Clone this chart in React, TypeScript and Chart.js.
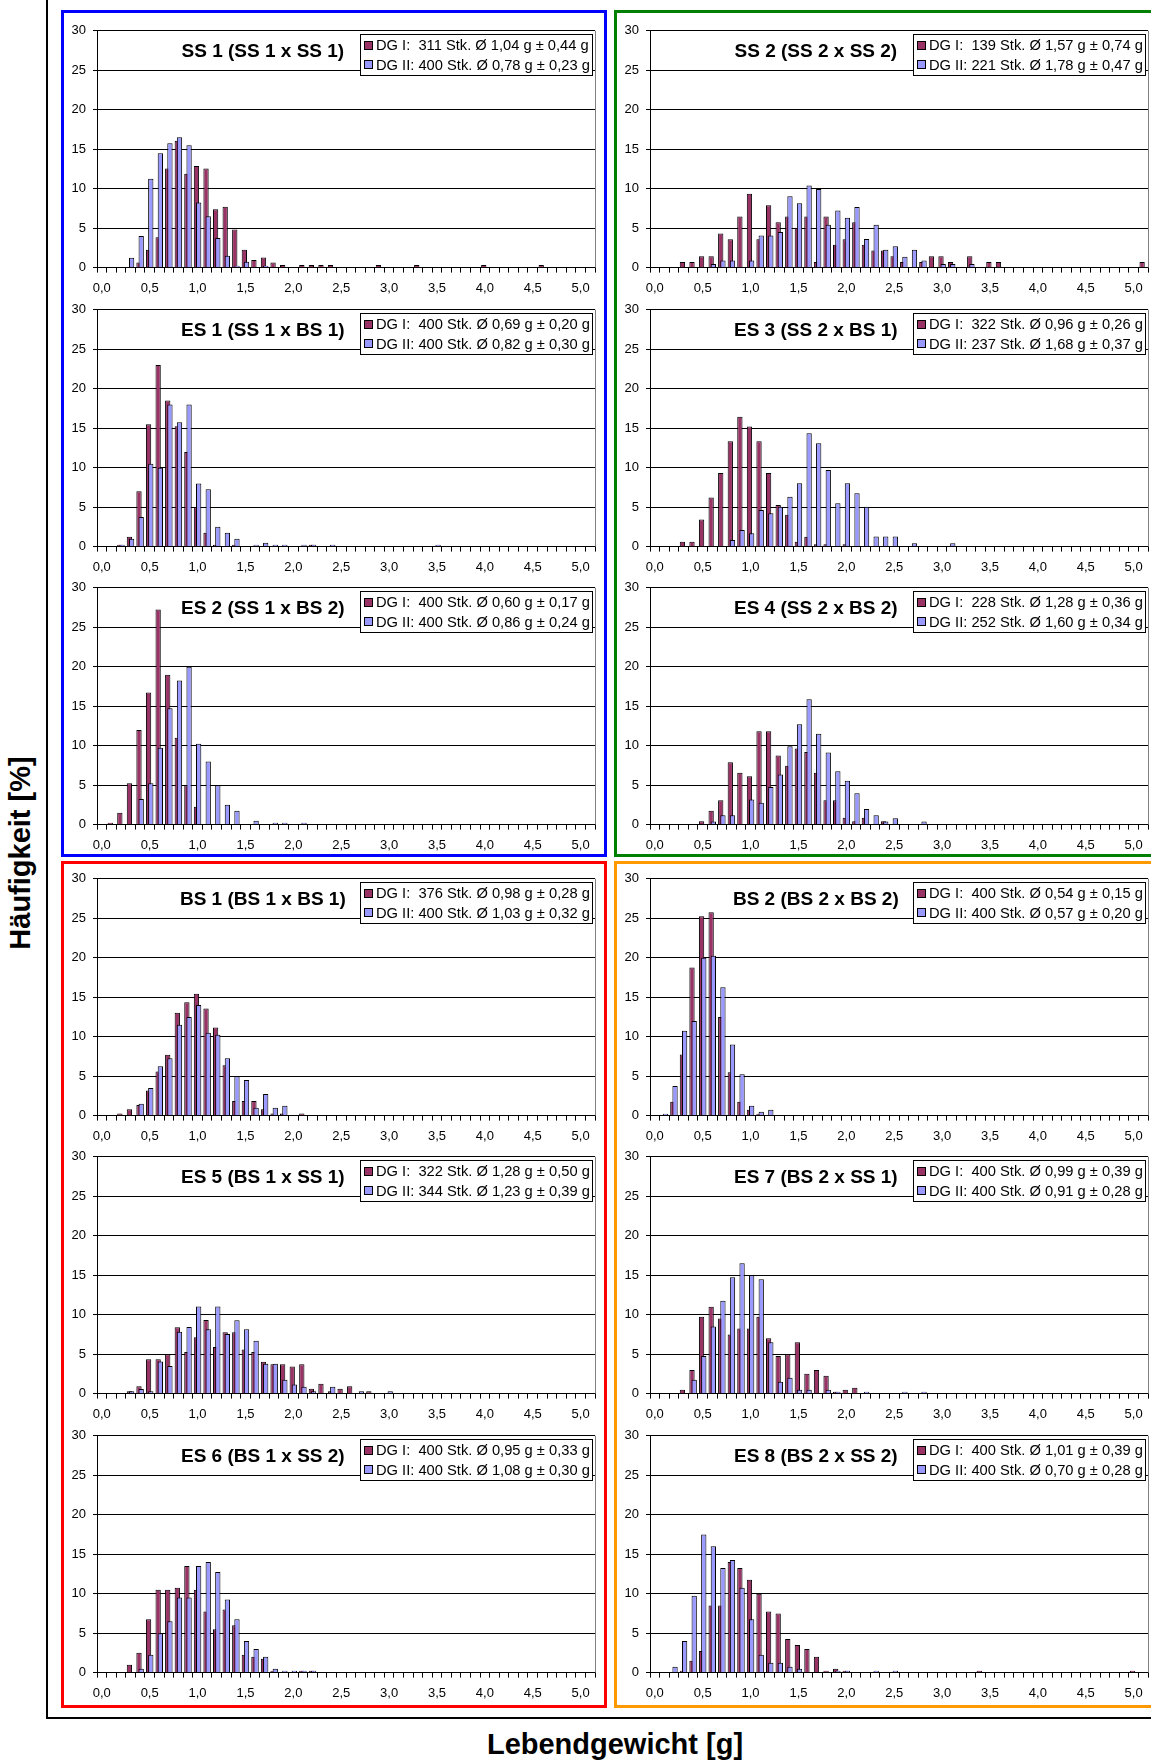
import React, { useEffect, useRef } from 'react';
import { Chart, registerables } from 'chart.js';

Chart.register(...registerables);

const FONT = '"Liberation Sans", Arial, Helvetica, sans-serif';
Chart.defaults.font.family = FONT;

// Weight classes 0,0 … 5,1 g in steps of 0,1 g
const WEIGHT_CLASSES = Array.from({ length: 52 }, (_, i) => (i / 10).toFixed(1).replace('.', ','));
const Y_TICKS = { min: 0, max: 30, step: 5 };

// Relative frequencies [%] per weight class (index 0 = 0,0 g); missing classes hold no animals
const SS1_DG1 = [0, 0, 0, 0, 0.64, 2.25, 3.86, 12.54, 16.08, 11.9, 12.86, 12.54, 7.4, 7.72, 4.82, 2.25, 0.96, 1.29, 0.64, 0.32, 0, 0.32, 0.32, 0.32, 0.32, 0, 0, 0, 0, 0.32, 0, 0, 0, 0.32, 0, 0, 0, 0, 0, 0, 0.32, 0, 0, 0, 0, 0, 0.32];
const SS1_DG2 = [0, 0, 0, 1.25, 4, 11.25, 14.5, 15.75, 16.5, 15.5, 8.25, 6.5, 3.75, 1.5, 0.25, 0.75, 0, 0.25];

const SS2_DG1 = [0, 0, 0, 0.72, 0.72, 1.44, 1.44, 4.32, 3.6, 6.47, 9.35, 3.6, 7.91, 5.76, 6.47, 5.04, 6.47, 0.72, 6.47, 2.88, 3.6, 5.76, 2.88, 2.16, 2.16, 1.44, 0.72, 0, 0.72, 1.44, 1.44, 0.72, 0, 1.44, 0, 0.72, 0.72, 0, 0, 0, 0, 0, 0, 0, 0, 0, 0, 0, 0, 0, 0, 0.72];
const SS2_DG2 = [0, 0, 0, 0, 0, 0, 0.45, 0.9, 0.9, 0, 0.9, 4.07, 4.07, 4.52, 9.05, 8.14, 10.41, 9.95, 5.43, 7.24, 6.33, 7.69, 3.62, 5.43, 2.26, 2.71, 1.36, 2.26, 0.9, 0, 0.45, 0.45, 0, 0.45];

const ES1_DG1 = [0, 0, 0.25, 1.25, 7, 15.5, 23, 18.5, 15.25, 12, 5, 1.75, 0.25, 0, 0.25, 0, 0, 0, 0, 0, 0, 0, 0.25];
const ES1_DG2 = [0, 0, 0.25, 1, 3.75, 10.5, 10, 18, 15.75, 18, 8, 7.25, 2.5, 1.75, 1, 0, 0.25, 0.5, 0.25, 0.25, 0, 0.25, 0.25, 0, 0.25, 0, 0, 0, 0, 0, 0, 0, 0, 0, 0, 0.25];

const ES3_DG1 = [0, 0, 0, 0.62, 0.62, 3.42, 6.21, 9.32, 13.35, 16.46, 15.22, 13.35, 9.32, 5.28, 4.04, 0.62, 1.24, 0.31, 0.31, 0, 0.31];
const ES3_DG2 = [0, 0, 0, 0, 0, 0, 0, 0, 0.84, 2.11, 1.69, 4.64, 4.22, 5.06, 6.33, 8.02, 14.35, 13.08, 9.7, 5.49, 8.02, 6.75, 5.06, 1.27, 1.27, 1.27, 0, 0.42, 0, 0, 0, 0.42];

const ES2_DG1 = [0, 0.25, 1.5, 5.25, 12, 16.75, 27.25, 19, 11, 5, 2.25];
const ES2_DG2 = [0, 0, 0, 0, 3.25, 5.25, 9.75, 14.75, 18.25, 20, 10.25, 8, 5, 2.5, 1.75, 0, 0.5, 0, 0.25, 0.25, 0, 0.25];

const ES4_DG1 = [0, 0, 0, 0, 0, 0.44, 1.75, 3.07, 7.89, 6.58, 6.14, 11.84, 11.84, 8.77, 7.46, 9.65, 9.21, 6.58, 3.07, 3.07, 0.88, 0.44, 0.88, 0, 0.44];
const ES4_DG2 = [0, 0, 0, 0, 0, 0, 0.4, 1.19, 1.19, 0, 3.17, 2.78, 4.76, 6.35, 9.92, 12.7, 15.87, 11.51, 9.13, 6.75, 5.56, 3.97, 1.98, 1.19, 0.4, 0.79, 0, 0, 0.4];

const BS1_DG1 = [0, 0, 0.27, 0.8, 1.33, 3.19, 5.59, 7.71, 13.03, 14.36, 15.43, 13.56, 11.17, 6.38, 1.86, 1.86, 1.86, 0.8, 0.27, 0.27, 0, 0.27];
const BS1_DG2 = [0, 0, 0, 0, 1.5, 3.5, 6.25, 7.25, 11.5, 12.5, 14, 10.5, 10.25, 7.25, 5, 4.5, 1, 2.75, 1, 1.25];

const BS2_DG1 = [0, 0, 1.75, 7.75, 18.75, 25.25, 25.75, 12.5, 5.5, 1.75, 0.75, 0.25];
const BS2_DG2 = [0, 0.25, 3.75, 10.75, 12, 20, 20.25, 16.25, 9, 5.25, 1.25, 0.5, 0.75];

const ES5_DG1 = [0, 0, 0, 0.31, 0.93, 4.35, 4.35, 4.97, 8.39, 5.28, 7.14, 9.32, 5.9, 7.76, 7.76, 5.59, 5.28, 4.04, 3.73, 3.73, 3.42, 3.73, 0.62, 1.24, 0.31, 0.62, 0.93, 0, 0.31];
const ES5_DG2 = [0, 0, 0, 0.29, 0.58, 0.29, 4.07, 3.49, 7.85, 8.43, 11.05, 8.14, 11.05, 7.56, 9.3, 8.14, 6.69, 3.78, 3.78, 1.74, 1.16, 0.87, 0.29, 0, 0.87, 0, 0, 0.29, 0, 0, 0.29];

const ES7_DG1 = [0, 0, 0, 0.5, 3, 9.75, 11, 9.5, 7.5, 8.25, 8.25, 9.75, 7, 4.75, 5, 6.5, 2.5, 3, 2.25, 0.25, 0.5, 0.75];
const ES7_DG2 = [0, 0, 0, 0, 1.75, 4.75, 8.5, 11.75, 14.75, 16.5, 15, 14.5, 6.5, 1.5, 2, 0.5, 0.5, 0, 0.5, 0.25, 0, 0, 0.25, 0, 0, 0, 0.25, 0, 0.25];

const ES6_DG1 = [0, 0, 0, 1, 2.5, 6.75, 10.5, 10.5, 10.75, 13.5, 10.5, 7.75, 5.5, 8, 6, 2.25, 2, 1.75, 0.25, 0, 0, 0.25, 0.25];
const ES6_DG2 = [0, 0, 0, 0, 0.5, 2.25, 5, 6.5, 9.5, 9.5, 13.5, 14, 12.75, 9.25, 6.75, 4, 3, 2, 0.5, 0.25, 0.25, 0.25, 0.25];

const ES8_DG1 = [0, 0, 0, 0.25, 1.5, 2.75, 8.5, 8.5, 14, 13.25, 11.75, 10, 7.75, 7.5, 4.25, 3.5, 3, 2, 0.25, 0.5, 0.25, 0, 0, 0, 0, 0, 0, 0, 0, 0, 0, 0, 0, 0, 0.25, 0, 0, 0, 0, 0, 0, 0, 0, 0, 0, 0, 0, 0, 0, 0, 0.25];
const ES8_DG2 = [0, 0, 0.75, 4, 9.75, 17.5, 16, 13.25, 14.25, 10.75, 6.75, 2.25, 1.25, 1.25, 0.75, 0.5, 0, 0, 0, 0.25, 0.25, 0, 0, 0.25, 0, 0.25];

// Legend entries: sample size, mean ± standard deviation
const SS1_LEGEND = ['DG I:  311 Stk. Ø 1,04 g ± 0,44 g', 'DG II: 400 Stk. Ø 0,78 g ± 0,23 g'];
const SS2_LEGEND = ['DG I:  139 Stk. Ø 1,57 g ± 0,74 g', 'DG II: 221 Stk. Ø 1,78 g ± 0,47 g'];
const ES1_LEGEND = ['DG I:  400 Stk. Ø 0,69 g ± 0,20 g', 'DG II: 400 Stk. Ø 0,82 g ± 0,30 g'];
const ES3_LEGEND = ['DG I:  322 Stk. Ø 0,96 g ± 0,26 g', 'DG II: 237 Stk. Ø 1,68 g ± 0,37 g'];
const ES2_LEGEND = ['DG I:  400 Stk. Ø 0,60 g ± 0,17 g', 'DG II: 400 Stk. Ø 0,86 g ± 0,24 g'];
const ES4_LEGEND = ['DG I:  228 Stk. Ø 1,28 g ± 0,36 g', 'DG II: 252 Stk. Ø 1,60 g ± 0,34 g'];
const BS1_LEGEND = ['DG I:  376 Stk. Ø 0,98 g ± 0,28 g', 'DG II: 400 Stk. Ø 1,03 g ± 0,32 g'];
const BS2_LEGEND = ['DG I:  400 Stk. Ø 0,54 g ± 0,15 g', 'DG II: 400 Stk. Ø 0,57 g ± 0,20 g'];
const ES5_LEGEND = ['DG I:  322 Stk. Ø 1,28 g ± 0,50 g', 'DG II: 344 Stk. Ø 1,23 g ± 0,39 g'];
const ES7_LEGEND = ['DG I:  400 Stk. Ø 0,99 g ± 0,39 g', 'DG II: 400 Stk. Ø 0,91 g ± 0,28 g'];
const ES6_LEGEND = ['DG I:  400 Stk. Ø 0,95 g ± 0,33 g', 'DG II: 400 Stk. Ø 1,08 g ± 0,30 g'];
const ES8_LEGEND = ['DG I:  400 Stk. Ø 1,01 g ± 0,39 g', 'DG II: 400 Stk. Ø 0,70 g ± 0,28 g'];

type Spec = { title: string; col: number; row: number; dg1: number[]; dg2: number[]; legend: string[] };

const PANELS: Spec[] = [
  { title: 'SS 1 (SS 1 x SS 1)', col: 0, row: 0, dg1: SS1_DG1, dg2: SS1_DG2, legend: SS1_LEGEND },
  { title: 'SS 2 (SS 2 x SS 2)', col: 1, row: 0, dg1: SS2_DG1, dg2: SS2_DG2, legend: SS2_LEGEND },
  { title: 'ES 1 (SS 1 x BS 1)', col: 0, row: 1, dg1: ES1_DG1, dg2: ES1_DG2, legend: ES1_LEGEND },
  { title: 'ES 3 (SS 2 x BS 1)', col: 1, row: 1, dg1: ES3_DG1, dg2: ES3_DG2, legend: ES3_LEGEND },
  { title: 'ES 2 (SS 1 x BS 2)', col: 0, row: 2, dg1: ES2_DG1, dg2: ES2_DG2, legend: ES2_LEGEND },
  { title: 'ES 4 (SS 2 x BS 2)', col: 1, row: 2, dg1: ES4_DG1, dg2: ES4_DG2, legend: ES4_LEGEND },
  { title: 'BS 1 (BS 1 x BS 1)', col: 0, row: 3, dg1: BS1_DG1, dg2: BS1_DG2, legend: BS1_LEGEND },
  { title: 'BS 2 (BS 2 x BS 2)', col: 1, row: 3, dg1: BS2_DG1, dg2: BS2_DG2, legend: BS2_LEGEND },
  { title: 'ES 5 (BS 1 x SS 1)', col: 0, row: 4, dg1: ES5_DG1, dg2: ES5_DG2, legend: ES5_LEGEND },
  { title: 'ES 7 (BS 2 x SS 1)', col: 1, row: 4, dg1: ES7_DG1, dg2: ES7_DG2, legend: ES7_LEGEND },
  { title: 'ES 6 (BS 1 x SS 2)', col: 0, row: 5, dg1: ES6_DG1, dg2: ES6_DG2, legend: ES6_LEGEND },
  { title: 'ES 8 (BS 2 x SS 2)', col: 1, row: 5, dg1: ES8_DG1, dg2: ES8_DG2, legend: ES8_LEGEND },
];

const FRAMES = [
  { color: '#0000FF', col: 0, group: 0 },
  { color: '#008000', col: 1, group: 0 },
  { color: '#FF0000', col: 0, group: 1 },
  { color: '#FF9900', col: 1, group: 1 },
];

// layout (px)
const COL_X = [61, 614];
const GROUP_Y = [10, 861];
const FRAME_W = 546;
const FRAME_H = 847;
const FRAME_LINE = 3;
const ZERO_Y = [267.6, 1115.5]; // x-axis line of the first panel in each frame group
const ROW_PITCH = 278.5;
const CANVAS_W = 537;
const CANVAS_H = 281;
const PAD_TOP = 9;
const Y_AXIS_W = 31;
const X_AXIS_H = 29.4;

const DG1_COLOR = '#993366';
const DG2_COLOR = '#9999FF';
const LEGEND_FONT = 14.7;

const toBars = (series: number[]) => WEIGHT_CLASSES.map((_, i) => (series[i] ? series[i] : null));

// Draw DG I first so the DG II columns sit on top where the pairs overlap
const drawInOrder = {
  id: 'drawInOrder',
  beforeDatasetsDraw(chart: any) {
    chart.data.datasets.forEach((_: any, i: number) => {
      const meta = chart.getDatasetMeta(i);
      if (!meta.hidden) meta.controller.draw();
    });
    return false;
  },
};

// Panel title, boxed legend inside the plot area and the grey plot-area edge
const panelDecor = {
  id: 'panelDecor',
  afterDraw(chart: any, _args: any, opts: any) {
    const { ctx, chartArea: a } = chart;
    ctx.save();
    ctx.strokeStyle = '#808080';
    ctx.lineWidth = 1;
    const rx = Math.round(a.right) + 0.5;
    ctx.beginPath();
    ctx.moveTo(rx, a.top);
    ctx.lineTo(rx, a.bottom);
    ctx.stroke();

    ctx.fillStyle = '#000';
    ctx.font = `bold 19px ${FONT}`;
    ctx.textAlign = 'center';
    ctx.textBaseline = 'middle';
    ctx.fillText(opts.title, a.left + a.width * 0.333, a.top + 21);

    ctx.font = `${LEGEND_FONT}px ${FONT}`;
    const labels: string[] = chart.data.datasets.map((d: any) => d.label);
    const textW = Math.max(...labels.map((l) => ctx.measureText(l).width));
    const w = Math.round(textW + 18);
    const h = 41;
    const x = Math.round(a.right - 3 - w);
    const y = Math.round(a.top + 3);
    ctx.fillStyle = '#fff';
    ctx.fillRect(x, y, w, h);
    ctx.strokeStyle = '#000';
    ctx.strokeRect(x + 0.5, y + 0.5, w, h);
    ctx.textAlign = 'left';
    chart.data.datasets.forEach((ds: any, i: number) => {
      const cy = y + 11 + i * 19.5;
      ctx.fillStyle = ds.backgroundColor;
      ctx.fillRect(x + 4, Math.round(cy - 4.5), 9, 9);
      ctx.strokeStyle = '#000';
      ctx.strokeRect(x + 4.5, Math.round(cy - 4.5) + 0.5, 8, 8);
      ctx.fillStyle = '#000';
      ctx.fillText(ds.label, x + 16, cy + 1);
    });
    ctx.restore();
  },
};

function Histogram({ spec }: { spec: Spec }) {
  const ref = useRef<HTMLCanvasElement>(null);
  const left = COL_X[spec.col] + 5;
  const group = Math.floor(spec.row / 3);
  const zeroY = ZERO_Y[group] + (spec.row % 3) * ROW_PITCH;
  const top = Math.round(zeroY - (CANVAS_H - X_AXIS_H));

  useEffect(() => {
    const tickFont = { family: FONT, size: 13 };
    const chart = new Chart(ref.current as HTMLCanvasElement, {
      type: 'bar',
      data: {
        labels: WEIGHT_CLASSES,
        datasets: [
          { label: spec.legend[0], data: toBars(spec.dg1), backgroundColor: DG1_COLOR, borderColor: '#000', borderWidth: 1 },
          { label: spec.legend[1], data: toBars(spec.dg2), backgroundColor: DG2_COLOR, borderColor: '#000', borderWidth: 1 },
        ],
      },
      options: {
        animation: false,
        responsive: false,
        maintainAspectRatio: false,
        devicePixelRatio: 1,
        layout: { padding: { top: PAD_TOP, right: 8, left: 0, bottom: 0 } },
        datasets: { bar: { categoryPercentage: 0.46, barPercentage: 2.4 } },
        plugins: {
          legend: { display: false },
          tooltip: { enabled: false },
          panelDecor: { title: spec.title },
        } as any,
        scales: {
          x: {
            type: 'category',
            offset: true,
            grid: { offset: true, drawOnChartArea: false, drawTicks: true, tickLength: 5, color: '#000' },
            border: { color: '#000' },
            ticks: {
              autoSkip: false,
              maxRotation: 0,
              minRotation: 0,
              padding: 8,
              color: '#000',
              font: tickFont,
              callback: (_v: any, i: number) => (i % 5 === 0 ? WEIGHT_CLASSES[i] : ''),
            },
            afterFit: (s: any) => {
              s.height = X_AXIS_H;
            },
          },
          y: {
            min: Y_TICKS.min,
            max: Y_TICKS.max,
            ticks: { stepSize: Y_TICKS.step, padding: 7, color: '#000', font: tickFont },
            grid: { color: '#000', tickLength: 4, drawTicks: true },
            border: { color: '#000' },
            afterFit: (s: any) => {
              s.width = Y_AXIS_W;
            },
          },
        },
      } as any,
      plugins: [drawInOrder, panelDecor],
    });
    return () => chart.destroy();
  }, [spec]);

  return (
    <canvas
      ref={ref}
      width={CANVAS_W}
      height={CANVAS_H}
      style={{ position: 'absolute', left, top, width: CANVAS_W, height: CANVAS_H }}
    />
  );
}

export default function App() {
  return (
    <div
      style={{
        position: 'absolute',
        left: 0,
        top: 0,
        width: 1151,
        height: 1760,
        overflow: 'hidden',
        background: '#fff',
        fontFamily: FONT,
      }}
    >
      {FRAMES.map((f) => (
        <div
          key={f.color}
          style={{
            position: 'absolute',
            left: COL_X[f.col],
            top: GROUP_Y[f.group],
            width: FRAME_W,
            height: FRAME_H,
            border: `${FRAME_LINE}px solid ${f.color}`,
            boxSizing: 'border-box',
          }}
        />
      ))}
      {PANELS.map((p) => (
        <Histogram key={p.title} spec={p} />
      ))}
      <div style={{ position: 'absolute', left: 46, top: 0, width: 2, height: 1719, background: '#000' }} />
      <div style={{ position: 'absolute', left: 46, top: 1717, width: 1110, height: 2, background: '#000' }} />
      <div
        style={{
          position: 'absolute',
          left: 20,
          top: 853,
          transform: 'translate(-50%, -50%) rotate(-90deg)',
          whiteSpace: 'nowrap',
          fontWeight: 'bold',
          fontSize: 29,
          color: '#000',
        }}
      >
        Häufigkeit [%]
      </div>
      <div
        style={{
          position: 'absolute',
          left: 615,
          top: 1744,
          transform: 'translate(-50%, -50%)',
          whiteSpace: 'nowrap',
          fontWeight: 'bold',
          fontSize: 29,
          color: '#000',
        }}
      >
        Lebendgewicht [g]
      </div>
    </div>
  );
}
